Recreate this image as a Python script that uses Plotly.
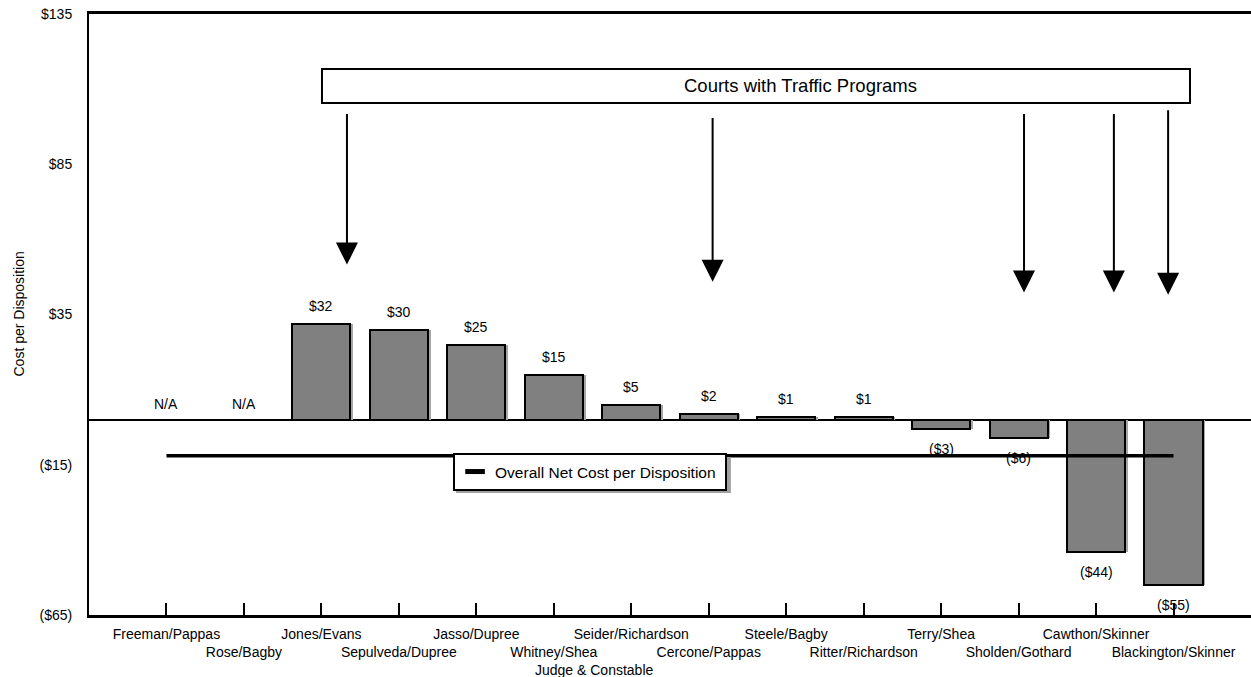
import plotly.graph_objects as go

# ---- data ----
judges = ["Freeman/Pappas", "Rose/Bagby", "Jones/Evans", "Sepulveda/Dupree",
          "Jasso/Dupree", "Whitney/Shea", "Seider/Richardson", "Cercone/Pappas",
          "Steele/Bagby", "Ritter/Richardson", "Terry/Shea", "Sholden/Gothard",
          "Cawthon/Skinner", "Blackington/Skinner"]
cost_per_disposition = [None, None, 32, 30, 25, 15, 5, 2, 1, 1, -3, -6, -44, -55]
value_labels = ["N/A", "N/A", "$32", "$30", "$25", "$15", "$5", "$2", "$1", "$1",
                "($3)", "($6)", "($44)", "($55)"]
overall_net_cost = [-12, -12, -12, -12, -12, -12, -12, -12, -12, -12, -12, -12, -12, -12]
y_tick_values = [135, 85, 35, -15, -65]
y_tick_labels = ["$135", "$85", "$35", "($15)", "($65)"]

FONT = "Liberation Sans, Arial, sans-serif"
FS = 14
idx = list(range(len(judges)))
BAR_W = 0.75

fig = go.Figure()

# shadow of bars
fig.add_trace(go.Bar(
    x=idx, y=cost_per_disposition, width=BAR_W, offset=-BAR_W / 2 + 0.035,
    marker=dict(color="#a6a6a6", line=dict(width=0)),
    showlegend=False, hoverinfo="skip"))
# main bars
fig.add_trace(go.Bar(
    x=idx, y=cost_per_disposition, width=BAR_W, offset=-BAR_W / 2,
    marker=dict(color="#808080", line=dict(color="black", width=2)),
    showlegend=False, name="Cost per Disposition"))

# overall net cost line
fig.add_trace(go.Scatter(
    x=idx, y=overall_net_cost, mode="lines",
    line=dict(color="black", width=3.5),
    showlegend=False, legendgroup="overall", name="Overall Net Cost per Disposition"))
# legend entry (short thick dash)
fig.add_trace(go.Scatter(
    x=[None], y=[None], mode="markers", legendgroup="overall",
    name="Overall Net Cost per Disposition\u00a0",
    marker=dict(symbol="line-ew", size=14, color="black",
                line=dict(color="black", width=5))))

annotations = []
# value labels
for i, (v, lab) in enumerate(zip(cost_per_disposition, value_labels)):
    if v is None:
        y, shift = 0, 16
    elif v >= 0:
        y, shift = v, 18
    else:
        y, shift = v, -20
    annotations.append(dict(x=i, y=y, text=lab, showarrow=False, yshift=shift,
                            font=dict(size=FS, color="black", family=FONT)))

# "Courts with Traffic Programs" box text
annotations.append(dict(xref="paper", yref="paper", x=0.612, y=0.8802,
                        xanchor="center", yanchor="middle",
                        text="Courts with Traffic Programs", showarrow=False,
                        font=dict(size=18.5, color="black", family=FONT)))

# arrows (tip x, tip y, tail y) in data units
arrow_specs = [(2.33, 51.6, 102.2), (7.05, 45.9, 100.9), (11.07, 42.3, 102.2),
               (12.23, 42.3, 102.2), (12.93, 41.6, 103.5)]
for ax_x, tip_y, tail_y in arrow_specs:
    annotations.append(dict(x=ax_x, y=tip_y, ax=ax_x, ay=tail_y, axref="x", ayref="y",
                            xref="x", yref="y", text="", showarrow=True,
                            arrowhead=2, arrowsize=2.2, arrowwidth=2, arrowcolor="black"))

# axis titles as annotations for exact placement
annotations.append(dict(xref="paper", yref="paper", x=0.4353, y=-0.0915,
                        xanchor="center", yanchor="middle",
                        text="Judge & Constable", showarrow=False,
                        font=dict(size=FS, color="black", family=FONT)))
annotations.append(dict(xref="paper", yref="paper", x=-0.0611, y=0.5,
                        xanchor="center", yanchor="middle",
                        text="Cost per Disposition", showarrow=False,
                        textangle=-90, font=dict(size=FS, color="black", family=FONT)))

shapes = [
    dict(type="rect", xref="paper", yref="paper", x0=0.2005, x1=0.9475,
         y0=0.8519, y1=0.9085, line=dict(color="black", width=2),
         fillcolor="rgba(0,0,0,0)", layer="above"),
    # legend drop shadow
    dict(type="rect", xref="paper", yref="paper", x0=0.3158, x1=0.5524,
         y0=0.2030, y1=0.2630, line=dict(width=0),
         fillcolor="#a0a0a0", layer="above"),
]

fig.update_layout(
    width=1251, height=677,
    margin=dict(l=89, r=0, t=14, b=62, autoexpand=False),
    paper_bgcolor="white", plot_bgcolor="white",
    barmode="overlay", bargap=0,
    font=dict(family=FONT, size=FS, color="black"),
    annotations=annotations, shapes=shapes,
    showlegend=True,
    legend=dict(x=0.3133, y=0.2696, xanchor="left", yanchor="top",
                bgcolor="white", bordercolor="black", borderwidth=2,
                font=dict(size=15.5, family=FONT, color="black"),
                itemclick=False, itemdoubleclick=False),
    xaxis=dict(range=[-1, 14], tickmode="array", tickvals=idx,
               ticktext=[j if k % 2 == 0 else "<br>" + j for k, j in enumerate(judges)],
               tickangle=0, automargin=False, ticklabelstandoff=4,
               ticklabeloverflow="allow",
               ticks="inside", ticklen=12, tickwidth=2, tickcolor="black",
               showline=True, linecolor="black", linewidth=3, mirror=True,
               showgrid=False, zeroline=False,
               tickfont=dict(size=FS, family=FONT, color="black")),
    yaxis=dict(range=[-65, 135], tickmode="array", tickvals=y_tick_values,
               ticktext=y_tick_labels, ticks="", ticklabelstandoff=12,
               automargin=False, ticklabeloverflow="allow",
               showline=True, linecolor="black", linewidth=2,
               showgrid=False, zeroline=True, zerolinecolor="black", zerolinewidth=2,
               tickfont=dict(size=FS, family=FONT, color="black")),
)

# remove the browser's default 8px page margin so the figure fills the window
fig.write_html("out.html", config={"displayModeBar": False},
               post_script="document.body.style.margin='0';")
